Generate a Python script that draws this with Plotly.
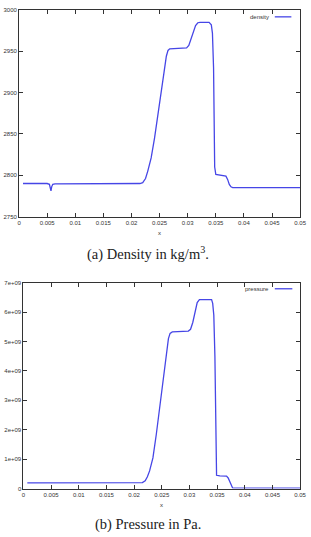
import plotly.graph_objects as go

# ---- data ----
x_density = [0.0007, 0.0050, 0.0054, 0.0056, 0.00568, 0.0058, 0.0060, 0.0064, 0.0100, 0.0150,
             0.0200, 0.0215, 0.0220, 0.0225, 0.0229, 0.0235, 0.0241, 0.02465, 0.0252, 0.0258,
             0.0262, 0.0265, 0.0268, 0.0290, 0.0298, 0.0302, 0.0306, 0.0310, 0.0314, 0.0318,
             0.0322, 0.0338, 0.0342, 0.0344, 0.0346, 0.0347, 0.0348, 0.0350, 0.0355, 0.0365,
             0.0368, 0.0371, 0.0374, 0.0377, 0.0380, 0.0500]
density = [2790, 2790, 2789, 2784, 2781, 2786, 2789, 2789.5, 2789.6, 2789.8,
           2790, 2790, 2791, 2796, 2805, 2821, 2845, 2869, 2897, 2925,
           2944, 2951, 2953, 2953.5, 2954, 2957, 2965, 2974, 2981, 2984.5,
           2985, 2985, 2982, 2972, 2930, 2870, 2810, 2801, 2800.5, 2800,
           2799, 2795, 2789, 2786, 2785, 2785]

x_pressure = [0.0007, 0.0200, 0.0215, 0.0220, 0.0224, 0.0228, 0.0234, 0.0240, 0.0246, 0.0252,
              0.0258, 0.0262, 0.0265, 0.0269, 0.0298, 0.0302, 0.0306, 0.0310, 0.0314, 0.0318,
              0.0340, 0.0342, 0.0344, 0.0346, 0.0347, 0.03475, 0.0349, 0.0355, 0.0367, 0.0370,
              0.0372, 0.0375, 0.0378, 0.0380, 0.0500]
pressure = [0.19e9, 0.19e9, 0.20e9, 0.26e9, 0.40e9, 0.60e9, 1.04e9, 1.83e9, 2.73e9, 3.63e9,
            4.64e9, 5.10e9, 5.28e9, 5.33e9, 5.36e9, 5.42e9, 5.65e9, 6.05e9, 6.33e9, 6.43e9,
            6.43e9, 6.30e9, 5.90e9, 4.50e9, 2.50e9, 0.80e9, 0.45e9, 0.43e9, 0.42e9, 0.36e9,
            0.28e9, 0.12e9, 0.02e9, 0.01e9, 0.01e9]

x_ticks = [0, 0.005, 0.01, 0.015, 0.02, 0.025, 0.03, 0.035, 0.04, 0.045, 0.05]
x_tick_labels = ["0", "0.005", "0.01", "0.015", "0.02", "0.025", "0.03", "0.035", "0.04", "0.045", "0.05"]
density_ticks = [2750, 2800, 2850, 2900, 2950, 3000]
density_tick_labels = ["2750", "2800", "2850", "2900", "2950", "3000"]
pressure_ticks = [0, 1e9, 2e9, 3e9, 4e9, 5e9, 6e9, 7e9]
pressure_tick_labels = ["0", "1e+09", "2e+09", "3e+09", "4e+09", "5e+09", "6e+09", "7e+09"]

W, H = 311, 537
LINE = "#4646e6"
AX = "#333333"
TICKFONT = dict(family="Liberation Sans, Arial, sans-serif", size=6, color="#333333")

fig = go.Figure()
fig.add_trace(go.Scatter(x=x_density, y=density, mode="lines", name="density",
                         line=dict(color=LINE, width=1.3), xaxis="x", yaxis="y",
                         showlegend=False))
fig.add_trace(go.Scatter(x=x_pressure, y=pressure, mode="lines", name="pressure",
                         line=dict(color=LINE, width=1.3), xaxis="x2", yaxis="y2",
                         showlegend=False))

def px_x(p):
    return p / W

def px_y(p):
    return 1 - p / H

common = dict(showline=True, mirror="ticks", linecolor=AX, linewidth=1,
              ticks="inside", ticklen=4, tickcolor=AX, tickwidth=1,
              showgrid=False, zeroline=False, tickfont=TICKFONT,
              ticklabeloverflow="allow")

fig.update_layout(
    width=W, height=H, margin=dict(l=0, r=0, t=0, b=0),
    paper_bgcolor="white", plot_bgcolor="white",
    xaxis=dict(domain=[px_x(17.5), px_x(306)], range=[0, 0.05], anchor="y",
               tickvals=x_ticks, ticktext=x_tick_labels, **common),
    yaxis=dict(domain=[px_y(216), px_y(7)], range=[2750, 3000], anchor="x",
               tickvals=density_ticks, ticktext=density_tick_labels, **common),
    xaxis2=dict(domain=[px_x(22), px_x(306)], range=[0, 0.05], anchor="y2",
                tickvals=x_ticks, ticktext=x_tick_labels, **common),
    yaxis2=dict(domain=[px_y(491), px_y(283)], range=[0, 7e9], anchor="x2",
                tickvals=pressure_ticks, ticktext=pressure_tick_labels, **common),
)

ann = []
shapes = []
# legends (gnuplot style: text then line sample)
ann.append(dict(x=px_x(276), y=px_y(14), xref="paper", yref="paper", text="density",
                showarrow=False, xanchor="right", yanchor="middle", font=TICKFONT))
shapes.append(dict(type="line", xref="paper", yref="paper", x0=px_x(280), x1=px_x(297),
                   y0=px_y(14), y1=px_y(14), line=dict(color=LINE, width=1.3)))
ann.append(dict(x=px_x(276), y=px_y(289), xref="paper", yref="paper", text="pressure",
                showarrow=False, xanchor="right", yanchor="middle", font=TICKFONT))
shapes.append(dict(type="line", xref="paper", yref="paper", x0=px_x(280), x1=px_x(298),
                   y0=px_y(289), y1=px_y(289), line=dict(color=LINE, width=1.3)))
# x axis labels
ann.append(dict(x=px_x(162), y=px_y(233), xref="paper", yref="paper", text="x",
                showarrow=False, xanchor="center", yanchor="middle", font=TICKFONT))
ann.append(dict(x=px_x(164), y=px_y(508), xref="paper", yref="paper", text="x",
                showarrow=False, xanchor="center", yanchor="middle", font=TICKFONT))
# captions
CAP = dict(family="Liberation Serif, DejaVu Serif, serif", size=14.5, color="#222222")
ann.append(dict(x=px_x(150), y=px_y(253), xref="paper", yref="paper",
                text="(a) Density in kg/m<sup>3</sup>.",
                showarrow=False, xanchor="center", yanchor="middle", font=CAP))
ann.append(dict(x=px_x(149.5), y=px_y(527), xref="paper", yref="paper",
                text="(b) Pressure in Pa.",
                showarrow=False, xanchor="center", yanchor="middle", font=CAP))

fig.update_layout(annotations=ann, shapes=shapes)
fig.write_html("out.html")
